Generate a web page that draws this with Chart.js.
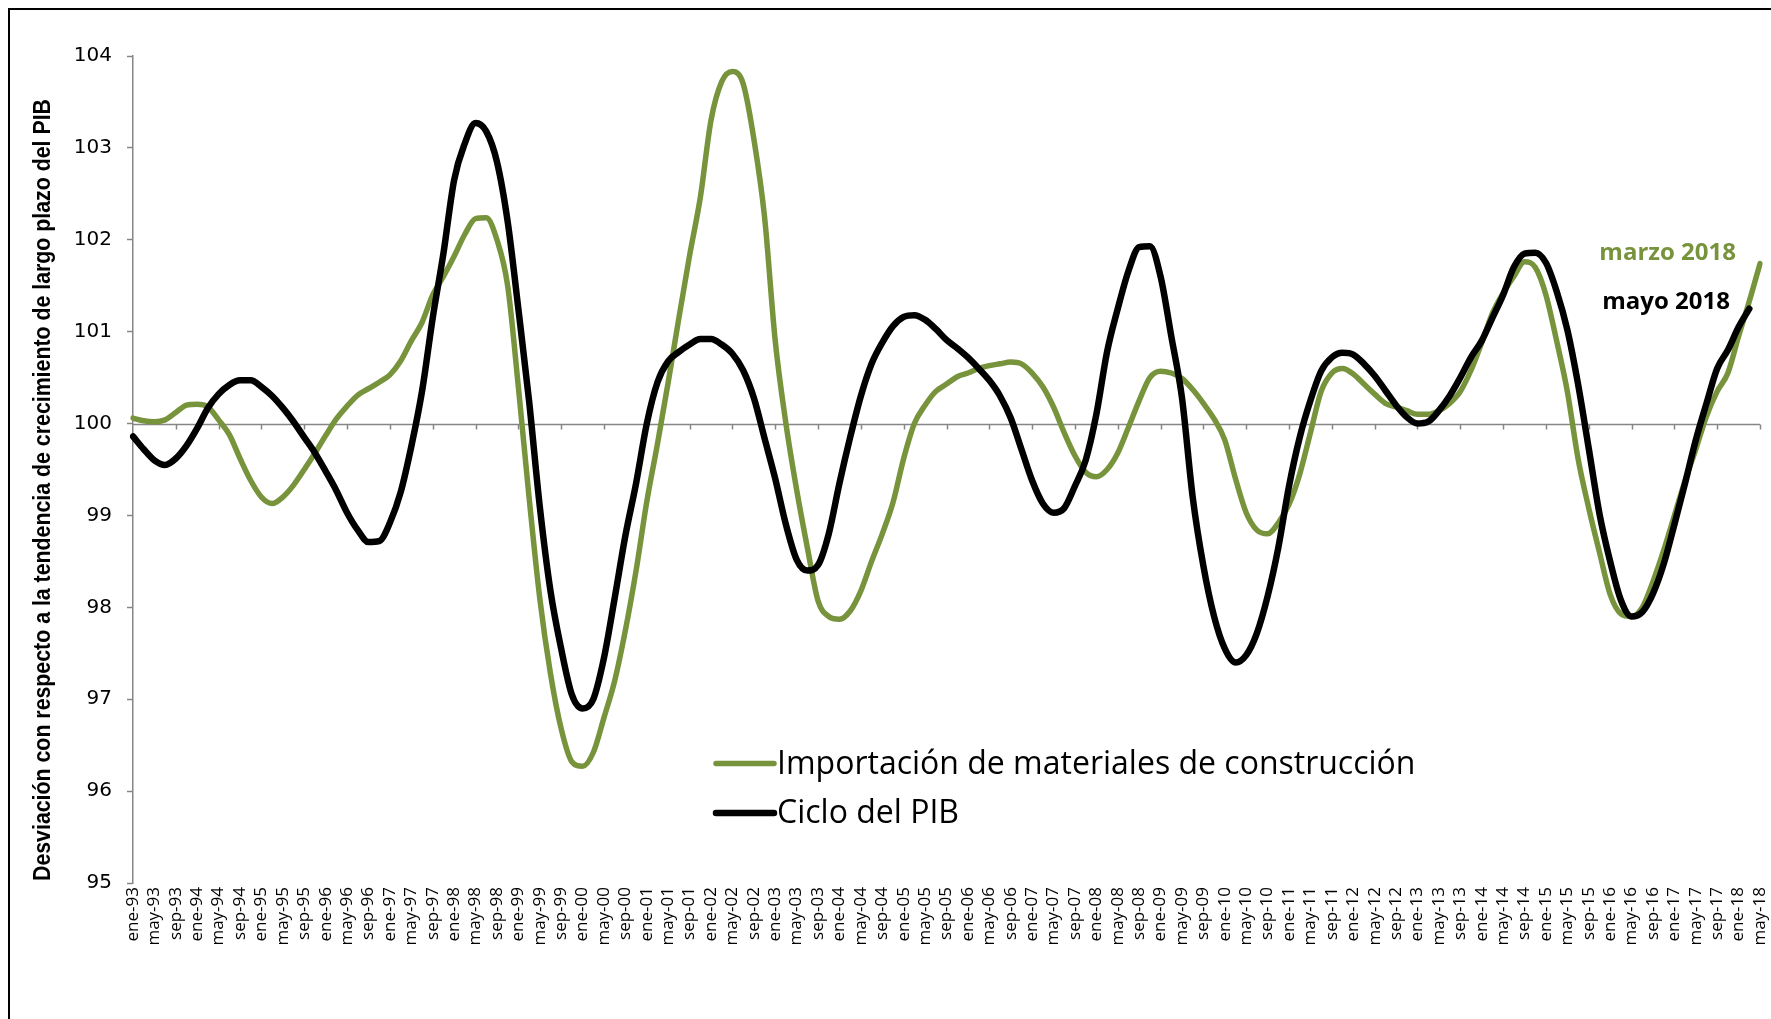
<!DOCTYPE html>
<html lang="es">
<head>
<meta charset="utf-8">
<title>Importación de materiales de construcción y ciclo del PIB</title>
<script src="https://cdn.jsdelivr.net/npm/chart.js@4.4.1/dist/chart.umd.min.js"></script>
<style>
  html, body { margin: 0; padding: 0; background: #fff; overflow: hidden; }
  #wrap { position: relative; width: 1771px; height: 1019px; }
  #frame { position: absolute; left: 8px; top: 8px; width: 1800px; height: 1100px; border: 2px solid #000; box-sizing: border-box; }
  canvas { position: absolute; left: 0; top: 0; }
</style>
</head>
<body>
<div id="wrap">
  <div id="frame"></div>
  <canvas id="chart" width="1771" height="1019"></canvas>
</div>
<script>
// Datos bimestrales, de ene-93 a may-18 (un valor cada dos meses)
const monthNames = ['ene', 'feb', 'mar', 'abr', 'may', 'jun', 'jul', 'ago', 'sep', 'oct', 'nov', 'dic'];
const firstYear = 1993;
const yMin = 95;
const yMax = 104;

const seriesNames = ['Importación de materiales de construcción', 'Ciclo del PIB'];
const endNotes = ['marzo 2018', 'mayo 2018'];
const axisTitle = 'Desviación con respecto a la tendencia de crecimiento de largo plazo del PIB';

const importaciones = [
  100.06, 100.03, 100.02, 100.04, 100.12, 100.20, 100.21, 100.18, 100.04, 99.88,
  99.62, 99.38, 99.20, 99.13, 99.20, 99.33, 99.50, 99.68, 99.87, 100.05,
  100.19, 100.31, 100.38, 100.45, 100.53, 100.68, 100.90, 101.10, 101.40, 101.60,
  101.82, 102.06, 102.23, 102.24, 102.00, 101.50, 100.40, 99.20, 98.10, 97.28,
  96.68, 96.32, 96.27, 96.42, 96.80, 97.20, 97.75, 98.40, 99.15, 99.78,
  100.45, 101.15, 101.83, 102.46, 103.30, 103.72, 103.83, 103.70, 103.10, 102.25,
  100.90, 100.00, 99.28, 98.65, 98.07, 97.90, 97.87, 97.96, 98.18, 98.50,
  98.80, 99.14, 99.62, 100.00, 100.20, 100.35, 100.43, 100.51, 100.55, 100.60,
  100.63, 100.65, 100.67, 100.65, 100.55, 100.40, 100.18, 99.90, 99.65, 99.47,
  99.42, 99.50, 99.68, 99.96, 100.25, 100.50, 100.57, 100.55, 100.49, 100.37,
  100.22, 100.05, 99.82, 99.40, 99.03, 98.84, 98.80, 98.92, 99.12, 99.45,
  99.90, 100.35, 100.55, 100.60, 100.54, 100.43, 100.32, 100.22, 100.18, 100.14,
  100.10, 100.10, 100.14, 100.22, 100.35, 100.58, 100.88, 101.20, 101.42, 101.60,
  101.76, 101.70, 101.40, 100.90, 100.35, 99.62, 99.08, 98.60, 98.14, 97.93,
  97.90, 98.00, 98.28, 98.62, 99.00, 99.38, 99.72, 100.08, 100.35, 100.55,
  100.95, 101.33, 101.74
];

const cicloPib = [
  99.86, 99.72, 99.60, 99.55, 99.62, 99.76, 99.95, 100.17, 100.32, 100.42,
  100.47, 100.47, 100.40, 100.30, 100.17, 100.02, 99.85, 99.68, 99.48, 99.27,
  99.03, 98.84, 98.71, 98.72, 98.92, 99.25, 99.75, 100.35, 101.15, 101.85,
  102.65, 103.05, 103.27, 103.18, 102.85, 102.20, 101.25, 100.25, 99.10, 98.18,
  97.55, 97.05, 96.90, 97.00, 97.45, 98.10, 98.78, 99.35, 100.00, 100.45,
  100.68, 100.78, 100.86, 100.92, 100.92, 100.86, 100.76, 100.58, 100.28, 99.84,
  99.40, 98.90, 98.52, 98.40, 98.46, 98.80, 99.35, 99.85, 100.30, 100.65,
  100.88, 101.06, 101.16, 101.18, 101.13, 101.03, 100.91, 100.82, 100.72, 100.60,
  100.47, 100.30, 100.06, 99.72, 99.38, 99.13, 99.03, 99.08, 99.32, 99.60,
  100.10, 100.78, 101.25, 101.66, 101.92, 101.93, 101.60, 100.95, 100.28, 99.20,
  98.45, 97.90, 97.55, 97.40, 97.48, 97.72, 98.12, 98.65, 99.32, 99.85,
  100.25, 100.57, 100.72, 100.77, 100.75, 100.65, 100.52, 100.36, 100.20, 100.07,
  100.00, 100.02, 100.14, 100.30, 100.50, 100.72, 100.90, 101.15, 101.40, 101.70,
  101.85, 101.86, 101.75, 101.44, 101.02, 100.43, 99.73, 99.02, 98.50, 98.08,
  97.90, 97.95, 98.15, 98.47, 98.90, 99.35, 99.82, 100.22, 100.60, 100.80,
  101.05, 101.25, null
];

// etiquetas: ene-93, mar-93, may-93 ...
const categories = importaciones.map(function(_, i) {
    const m = i * 2;
    const yy = (firstYear + Math.floor(m / 12)) % 100;
    return monthNames[m % 12] + '-' + String(yy).padStart(2, '0');
});

const GREEN = '#77933c';
const GREY = '#868686';

const decorations = {
    id: 'decorations',
    beforeDatasetsDraw(chart) {
        const { ctx, chartArea, scales } = chart;
        const y100 = Math.round(scales.y.getPixelForValue(100)) + 0.5;
        ctx.save();
        ctx.strokeStyle = GREY;
        ctx.lineWidth = 1.5;
        ctx.beginPath();
        ctx.moveTo(chartArea.left, y100);
        ctx.lineTo(chartArea.right, y100);
        scales.x.ticks.forEach(function(t, i) {
            if (i > 0 && i % 2 === 0) {
                const px = Math.round(scales.x.getPixelForTick(i)) + 0.5;
                ctx.moveTo(px, y100);
                ctx.lineTo(px, y100 + 5);
            }
        });
        ctx.stroke();
        ctx.restore();
    },
    afterDraw(chart) {
        const { ctx, chartArea } = chart;
        ctx.save();

        // titulo del eje vertical
        ctx.translate(43.5, 490);
        ctx.rotate(-Math.PI / 2);
        ctx.fillStyle = '#000';
        ctx.font = 'bold 24px "Liberation Sans Narrow", "Liberation Sans", sans-serif';
        ctx.textAlign = 'center';
        ctx.textBaseline = 'middle';
        ctx.fillText(axisTitle, 0, 0, 782);
        ctx.setTransform(1, 0, 0, 1, 0, 0);

        // leyenda
        const ds = chart.data.datasets;
        const rows = [763.5, 813];
        ctx.font = '32px "Open Sans", sans-serif';
        ctx.textAlign = 'left';
        ds.forEach(function(d, i) {
            ctx.strokeStyle = d.borderColor;
            ctx.lineWidth = d.borderWidth;
            ctx.lineCap = 'round';
            ctx.beginPath();
            ctx.moveTo(716, rows[i]);
            ctx.lineTo(774, rows[i]);
            ctx.stroke();
            ctx.fillStyle = '#000';
            ctx.fillText(d.label, 777, rows[i] + 1, i === 0 ? 644 : 300);
        });

        // notas al final de las series
        ctx.font = 'bold 24px "Open Sans", sans-serif';
        ctx.textAlign = 'right';
        ctx.fillStyle = GREEN;
        ctx.fillText(endNotes[0], chartArea.right - 24, 253, 140);
        ctx.fillStyle = '#000';
        ctx.fillText(endNotes[1], chartArea.right - 30, 302, 128);
        ctx.restore();
    }
};

new Chart(document.getElementById('chart'), {
    type: 'line',
    data: {
        labels: categories,
        datasets: [{
            label: seriesNames[0],
            data: importaciones,
            borderColor: GREEN,
            borderWidth: 5.5,
            order: 1
        }, {
            label: seriesNames[1],
            data: cicloPib,
            borderColor: '#000',
            borderWidth: 6.5,
            order: 0
        }]
    },
    options: {
        responsive: false,
        animation: false,
        layout: { padding: { top: 56, right: 0, left: 0, bottom: 0 } },
        elements: {
            point: { radius: 0 },
            line: { cubicInterpolationMode: 'monotone', borderCapStyle: 'round', borderJoinStyle: 'round' }
        },
        plugins: {
            legend: { display: false },
            tooltip: { enabled: false }
        },
        scales: {
            x: {
                type: 'category',
                offset: false,
                afterFit: function(scale) {
                    scale.height = 136;
                    scale.paddingRight = 11;
                },
                grid: { display: false, drawTicks: false },
                border: { display: false },
                ticks: {
                    autoSkip: false,
                    maxRotation: 90,
                    minRotation: 90,
                    padding: 4,
                    color: '#000',
                    font: { family: '"Open Sans", sans-serif', size: 17 },
                    callback: function(value, index) {
                        return index % 2 === 0 ? this.getLabelForValue(value) : null;
                    }
                }
            },
            y: {
                min: yMin,
                max: yMax,
                afterFit: function(scale) { scale.width = 133; },
                grid: { drawOnChartArea: false, tickLength: 6, tickColor: GREY, tickWidth: 1.5 },
                border: { color: GREY, width: 1.5 },
                ticks: {
                    stepSize: 1,
                    padding: 15,
                    color: '#000',
                    font: { family: '"DejaVu Sans", Verdana, sans-serif', size: 20 }
                }
            }
        }
    },
    plugins: [decorations]
});
</script>
</body>
</html>
